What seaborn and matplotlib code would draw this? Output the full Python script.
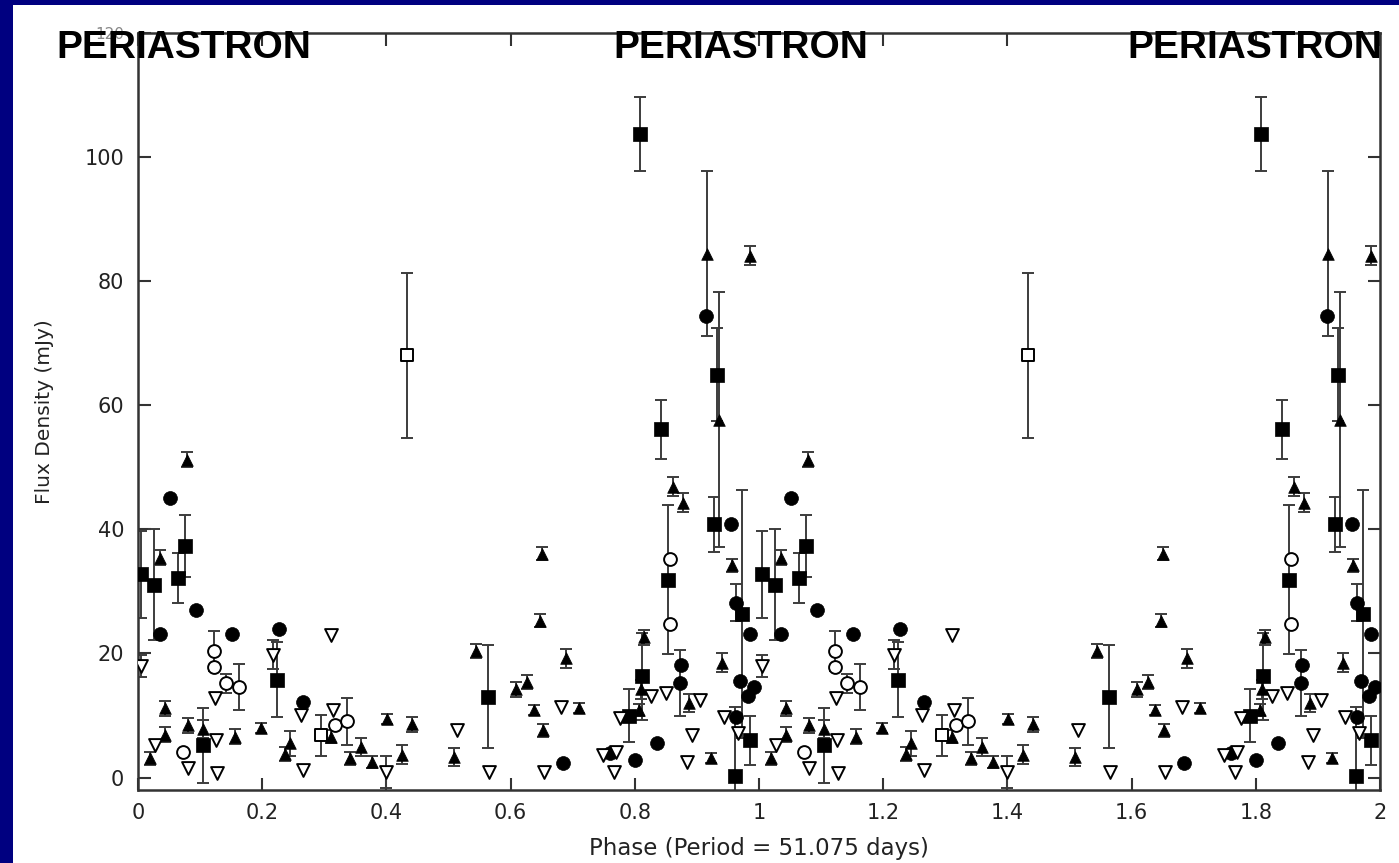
import numpy as np
import pandas as pd
import matplotlib
matplotlib.use("Agg")
import matplotlib.pyplot as plt
from matplotlib.patches import Rectangle
import seaborn as sns

# ---- radio flux densities over one orbital cycle (phase 0-1), drawn for two cycles ----
# filled squares
sq_phase = [0.005, 0.025, 0.065, 0.076, 0.104, 0.224, 0.563, 0.791, 0.811, 0.809,
            0.842, 0.853, 0.928, 0.932, 0.962, 0.972, 0.986]
sq_flux = [32.8, 31.1, 32.2, 37.4, 5.2, 15.8, 13.0, 10.0, 16.3, 103.7,
           56.1, 31.9, 40.8, 64.9, 0.3, 26.4, 6.0]
sq_err = [7.0, 9.0, 4.0, 5.0, 6.0, 6.0, 8.3, 4.3, 7.0, 6.0,
          4.8, 12.0, 4.5, 7.5, 11.0, 20.0, 4.0]

# filled circles
ci_phase = [0.035, 0.051, 0.093, 0.151, 0.227, 0.265, 0.684, 0.760, 0.800, 0.836,
            0.874, 0.872, 0.914, 0.955, 0.963, 0.985, 0.970, 0.992, 0.982, 0.963]
ci_flux = [23.1, 45.0, 27.0, 23.1, 24.0, 12.2, 2.3, 3.9, 2.8, 5.6,
           18.1, 15.2, 74.4, 40.9, 28.2, 23.2, 15.5, 14.6, 13.2, 9.8]
ci_err = [0, 0, 0, 0, 0, 0, 0, 0, 0, 0,
          0, 5.3, 0, 0, 3.0, 0, 0, 0, 0, 0]

# filled upward triangles
tr_phase = [0.019, 0.035, 0.043, 0.043, 0.079, 0.081, 0.105, 0.157, 0.198, 0.237,
            0.244, 0.310, 0.341, 0.359, 0.377, 0.401, 0.425, 0.442, 0.509, 0.545,
            0.608, 0.626, 0.638, 0.648, 0.650, 0.652, 0.689, 0.710, 0.807, 0.810,
            0.815, 0.861, 0.878, 0.887, 0.917, 0.922, 0.935, 0.941, 0.956, 0.985]
tr_flux = [3.1, 35.4, 11.2, 6.9, 51.2, 8.4, 7.8, 6.6, 8.0, 3.8,
           5.5, 6.6, 3.1, 4.9, 2.5, 9.4, 3.7, 8.6, 3.3, 20.4,
           14.2, 15.4, 10.9, 25.3, 36.1, 7.6, 19.2, 11.2, 10.9, 14.2,
           22.6, 46.9, 44.3, 12.0, 84.4, 3.1, 57.7, 18.5, 34.2, 84.1]
tr_err = [1.0, 1.2, 1.2, 1.2, 1.2, 1.2, 1.5, 1.2, 0.8, 1.2,
          2.0, 1.0, 1.0, 1.5, 1.0, 0.8, 1.5, 1.2, 1.5, 1.2,
          1.2, 1.2, 0.8, 1.0, 1.0, 1.0, 1.5, 0.8, 1.0, 1.5,
          1.2, 1.5, 1.5, 1.5, 13.3, 0.8, 20.5, 1.5, 1.0, 1.5]

# open downward triangles
ot_phase = [0.005, 0.027, 0.081, 0.124, 0.126, 0.128, 0.217, 0.262, 0.265, 0.311,
            0.314, 0.399, 0.514, 0.565, 0.653, 0.681, 0.748, 0.767, 0.770, 0.776,
            0.826, 0.850, 0.884, 0.892, 0.905, 0.944, 0.966]
ot_flux = [18.0, 5.2, 1.5, 12.8, 6.0, 0.7, 19.8, 10.1, 1.2, 22.9,
           10.9, 0.9, 7.6, 0.9, 0.9, 11.3, 3.6, 0.9, 4.1, 9.6,
           13.1, 13.6, 2.5, 6.8, 12.5, 9.8, 7.2]
ot_err = [1.8, 0, 0, 0, 0, 0, 2.3, 0, 0, 0,
          0, 2.5, 0, 0, 0, 0, 0, 0, 0, 0,
          0, 0, 0, 0, 0, 0, 0]

# open circles
oc_phase = [0.073, 0.122, 0.122, 0.142, 0.163, 0.318, 0.337, 0.856, 0.856]
oc_flux = [4.1, 20.4, 17.9, 15.2, 14.6, 8.5, 9.1, 35.3, 24.8]
oc_err = [0, 3.2, 0, 1.5, 3.7, 0, 3.8, 0, 0]

# open squares
os_phase = [0.295, 0.433]
os_flux = [6.8, 68.1]
os_err = [3.3, 13.3]

x_ticks = [0, 0.2, 0.4, 0.6, 0.8, 1.0, 1.2, 1.4, 1.6, 1.8, 2.0]
x_ticklabels = ["0", "0.2", "0.4", "0.6", "0.8", "1", "1.2", "1.4", "1.6", "1.8", "2"]
y_ticks = [0, 20, 40, 60, 80, 100, 120]


def two_cycles(phase, flux, err):
    p = np.asarray(phase, float)
    return pd.DataFrame({
        "phase": np.concatenate([p, p + 1.0]),
        "flux": np.concatenate([flux, flux]),
        "err": np.concatenate([err, err]),
    })


sns.set_theme(style="ticks")
plt.rcParams["font.family"] = ["DejaVu Sans"]

fig = plt.figure(figsize=(13.99, 8.63), dpi=100, facecolor="#000080")
fig.patches.append(Rectangle((13 / 1399, 0), 1.0, (863 - 5) / 863,
                             transform=fig.transFigure, facecolor="white",
                             edgecolor="none", zorder=-5))
ax = fig.add_axes([138 / 1399, 1 - 790 / 863, (1380 - 138) / 1399, (790 - 33) / 863])
ax.set_facecolor("white")

series = [
    (two_cycles(sq_phase, sq_flux, sq_err), dict(marker="s", s=90, color="black", edgecolor="black", linewidth=0.5)),
    (two_cycles(ci_phase, ci_flux, ci_err), dict(marker="o", s=100, color="black", edgecolor="black", linewidth=0.5)),
    (two_cycles(tr_phase, tr_flux, tr_err), dict(marker="^", s=70, color="black", edgecolor="black", linewidth=0.5)),
    (two_cycles(ot_phase, ot_flux, ot_err), dict(marker="v", s=85, color="white", edgecolor="black", linewidth=1.4)),
    (two_cycles(oc_phase, oc_flux, oc_err), dict(marker="o", s=85, color="white", edgecolor="black", linewidth=1.4)),
    (two_cycles(os_phase, os_flux, os_err), dict(marker="s", s=80, color="white", edgecolor="black", linewidth=1.4)),
]

for df, style in series:
    bars = df[df["err"] > 0]
    if len(bars):
        ax.errorbar(bars["phase"], bars["flux"], yerr=bars["err"], fmt="none",
                    ecolor="#3c3c3c", elinewidth=1.4, capsize=4.5, capthick=1.4, zorder=2)
    sns.scatterplot(data=df, x="phase", y="flux", ax=ax, zorder=3, legend=False, **style)

ax.set_xlim(0, 2)
ax.set_ylim(-2, 120)
ax.set_xticks(x_ticks)
ax.set_xticklabels(x_ticklabels)
ax.set_yticks(y_ticks)

ax.tick_params(axis="both", direction="in", length=9, width=1.5, color="#333333",
               labelsize=15, labelcolor="#222222", top=True, right=True)
ax.tick_params(axis="x", pad=9)
ax.tick_params(axis="y", pad=10)
# the top value sits under the periastron caption, printed small and grey
top_label = ax.get_yticklabels()[-1]
top_label.set_fontsize(11)
top_label.set_color("#888888")
for sp in ax.spines.values():
    sp.set_visible(True)
    sp.set_linewidth(1.8)
    sp.set_color("#333333")

ax.set_xlabel("Phase (Period = 51.075 days)", fontsize=16.5, color="#222222")
ax.set_ylabel("Flux Density (mJy)", fontsize=14.5, color="#222222")
ax.xaxis.set_label_coords(0.5, (790 - 848) / 757)
ax.xaxis.label.set_va("center")
ax.yaxis.set_label_coords((45 - 138) / 1242, 0.5)
ax.yaxis.label.set_va("center")

for xc in (184, 741, 1255):
    fig.text(xc / 1399, 1 - 58 / 863, "PERIASTRON", ha="center", va="baseline",
             fontsize=28, fontweight="bold", family=["Liberation Sans", "DejaVu Sans"],
             color="black", zorder=10)

fig.savefig("out.png", dpi=100, facecolor=fig.get_facecolor())
